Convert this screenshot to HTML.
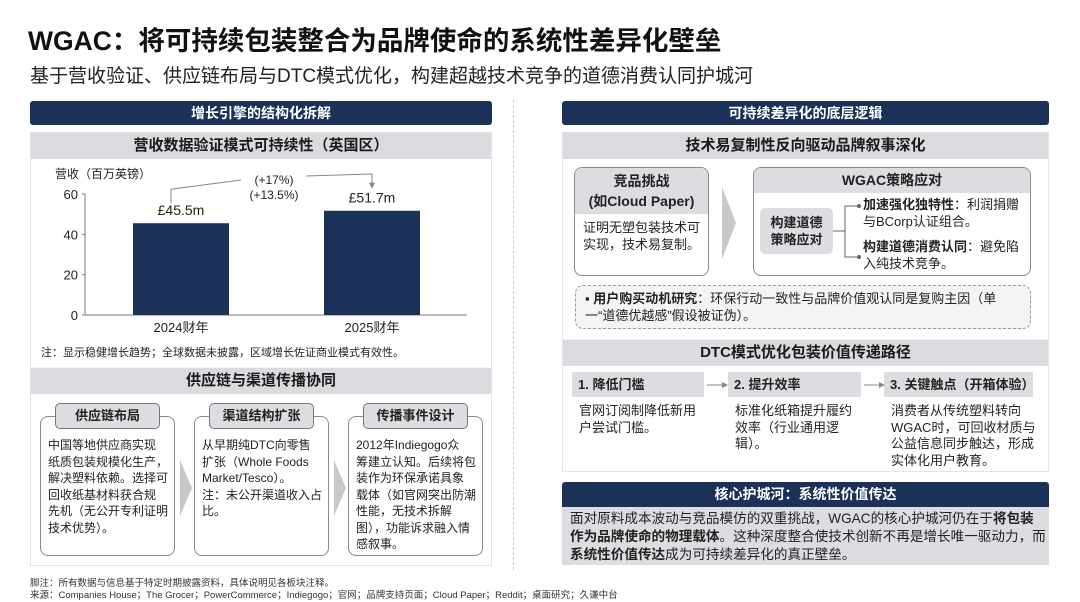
<!DOCTYPE html>
<html><head><meta charset="utf-8">
<style>
*{box-sizing:border-box;margin:0;padding:0}
body{width:1080px;height:602px;background:#fff;font-family:"Liberation Sans","Noto Sans CJK SC",sans-serif;color:#222;position:relative;overflow:hidden}
.a{position:absolute}
.navy{background:#1c3158;color:#fff;font-weight:bold;text-align:center;border-radius:3px}
.gh{background:#d9dbde;font-weight:bold;text-align:center;color:#1a1a1a}
.panel{background:#f4f4f5;border:1px solid #e4e4e6}
.box{background:#fff;border:1px solid #8a8a8a;border-radius:8px}
.tab{background:#dcdde0;border:1px solid #777;border-radius:5px;font-weight:bold;text-align:center;font-size:13px;line-height:24px}
.t{font-size:13px;line-height:16.5px}
.c{font-size:12px;line-height:16.5px;white-space:nowrap}
.chev{width:0;height:0;border-top:36px solid transparent;border-bottom:36px solid transparent;border-left:14px solid #c8c8cb}
</style></head><body>
<div class="a" style="left:28px;top:19px;font-size:26.5px;font-weight:bold;color:#111">WGAC：将可持续包装整合为品牌使命的系统性差异化壁垒</div>
<div class="a" style="left:30px;top:61px;font-size:19px;color:#222">基于营收验证、供应链布局与DTC模式优化，构建超越技术竞争的道德消费认同护城河</div>

<!-- LEFT -->
<div class="a navy" style="left:30px;top:101px;width:462px;height:24px;font-size:14px;line-height:24px">增长引擎的结构化拆解</div>
<div class="a panel" style="left:30px;top:132px;width:462px;height:434px"></div>
<div class="a gh" style="left:31px;top:133px;width:460px;height:26px;font-size:15px;line-height:26px">营收数据验证模式可持续性（英国区）</div>
<div class="a" style="left:31px;top:159px;width:460px;height:208px;background:#fff"></div>
<svg class="a" id="chart" style="left:0;top:0" width="520" height="370"></svg>
<div class="a" style="left:41px;top:344px;font-size:11px">注：显示稳健增长趋势；全球数据未披露，区域增长佐证商业模式有效性。</div>

<div class="a gh" style="left:31px;top:368px;width:460px;height:26px;font-size:15px;line-height:26px">供应链与渠道传播协同</div>
<div class="a" style="left:31px;top:394px;width:460px;height:171px;background:#fff"></div>

<div class="a box" style="left:40px;top:416px;width:135px;height:140px"></div>
<div class="a tab" style="left:55px;top:403px;width:105px;height:26px">供应链布局</div>
<div class="a c" style="left:48px;top:437px">中国等地供应商实现<br>纸质包装规模化生产，<br>解决塑料依赖。选择可<br>回收纸基材料获合规<br>先机（无公开专利证明<br>技术优势）。</div>
<div class="a chev" style="left:180px;top:460px;border-top-width:28px;border-bottom-width:28px;border-left-width:12px"></div>

<div class="a box" style="left:194px;top:416px;width:135px;height:140px"></div>
<div class="a tab" style="left:209px;top:403px;width:105px;height:26px">渠道结构扩张</div>
<div class="a c" style="left:202px;top:437px">从早期纯DTC向零售<br>扩张（Whole Foods<br>Market/Tesco）。<br>注：未公开渠道收入占<br>比。</div>
<div class="a chev" style="left:334px;top:460px;border-top-width:28px;border-bottom-width:28px;border-left-width:12px"></div>

<div class="a box" style="left:348px;top:416px;width:135px;height:140px"></div>
<div class="a tab" style="left:363px;top:403px;width:105px;height:26px">传播事件设计</div>
<div class="a c" style="left:356px;top:437px">2012年Indiegogo众<br>筹建立认知。后续将包<br>装作为环保承诺具象<br>载体（如官网突出防潮<br>性能，无技术拆解<br>图），功能诉求融入情<br>感叙事。</div>

<div class="a" style="left:513px;top:100px;height:470px;border-left:1px dashed #ccc"></div>

<div class="a" style="left:30px;top:575px;font-size:9.5px;color:#333">脚注：所有数据与信息基于特定时期披露资料，具体说明见各板块注释。</div>
<div class="a" style="left:30px;top:587px;font-size:9.5px;color:#333">来源：Companies House；The Grocer；PowerCommerce；Indiegogo；官网；品牌支持页面；Cloud Paper；Reddit；桌面研究；久谦中台</div>

<!-- RIGHT -->
<div class="a navy" style="left:562px;top:101px;width:487px;height:24px;font-size:14px;line-height:24px">可持续差异化的底层逻辑</div>
<div class="a panel" style="left:562px;top:132px;width:487px;height:340px"></div>
<div class="a gh" style="left:563px;top:133px;width:485px;height:26px;font-size:15px;line-height:26px">技术易复制性反向驱动品牌叙事深化</div>
<div class="a" style="left:563px;top:159px;width:485px;height:180px;background:#fff"></div>

<div class="a box" style="left:574px;top:167px;width:135px;height:109px;overflow:hidden">
 <div style="background:#dcdde0;height:46px;text-align:center;font-weight:bold;font-size:14px;line-height:20px;padding-top:3px">竞品挑战<br>(如Cloud Paper)</div>
 <div class="t" style="padding:6px 8px;font-size:13px">证明无塑包装技术可实现，技术易复制。</div>
</div>
<div class="a chev" style="left:722px;top:187px"></div>
<div class="a box" style="left:753px;top:167px;width:278px;height:109px;overflow:hidden">
 <div style="background:#dcdde0;height:25px;text-align:center;font-weight:bold;font-size:14px;line-height:25px">WGAC策略应对</div>
</div>
<div class="a" style="left:760px;top:208px;width:73px;height:46px;background:#dcdde0;border-radius:5px;font-weight:bold;font-size:13px;line-height:17px;text-align:center;padding-top:6px">构建道德<br>策略应对</div>
<svg class="a" style="left:833px;top:200px" width="30" height="65"><path d="M0 31H12M12 31V6H26M12 31V57H26" fill="none" stroke="#666"/><circle cx="26" cy="6" r="2" fill="#666"/><circle cx="26" cy="57" r="2" fill="#666"/></svg>
<div class="a t" style="left:863px;top:197px;width:165px"><b>加速强化独特性</b>：利润捐赠与BCorp认证组合。</div>
<div class="a t" style="left:863px;top:239px;width:165px"><b>构建道德消费认同</b>：避免陷入纯技术竞争。</div>
<div class="a" style="left:575px;top:285px;width:456px;height:44px;border:1px dashed #999;border-radius:8px;background:#f4f4f5"></div>
<div class="a t" style="left:585px;top:291px;width:440px">▪ <b>用户购买动机研究</b>：环保行动一致性与品牌价值观认同是复购主因（单一“道德优越感”假设被证伪）。</div>

<div class="a gh" style="left:563px;top:340px;width:485px;height:26px;font-size:15px;line-height:26px">DTC模式优化包装价值传递路径</div>
<div class="a" style="left:563px;top:366px;width:485px;height:105px;background:#fff"></div>
<div class="a" style="left:572px;top:372px;width:132px;height:25px;background:#dcdde0;font-weight:bold;font-size:13px;line-height:25px;padding-left:6px">1. 降低门槛</div>
<div class="a" style="left:728px;top:372px;width:133px;height:25px;background:#dcdde0;font-weight:bold;font-size:13px;line-height:25px;padding-left:6px">2. 提升效率</div>
<div class="a" style="left:884px;top:372px;width:149px;height:25px;background:#dcdde0;font-weight:bold;font-size:13px;line-height:25px;padding-left:6px">3. 关键触点（开箱体验）</div>
<svg class="a" style="left:704px;top:378px" width="184" height="14"><path d="M3 7H22M160 7H179" stroke="#888"/><path d="M18 4L24 7L18 10ZM175 4L181 7L175 10Z" fill="#888"/></svg>
<div class="a t" style="left:579px;top:403px;width:120px">官网订阅制降低新用户尝试门槛。</div>
<div class="a t" style="left:735px;top:403px;width:120px">标准化纸箱提升履约效率（行业通用逻辑）。</div>
<div class="a t" style="left:891px;top:403px;white-space:nowrap">消费者从传统塑料转向<br>WGAC时，可回收材质与<br>公益信息同步触达，形成<br>实体化用户教育。</div>

<div class="a navy" style="left:562px;top:482px;width:487px;height:25px;font-size:14px;line-height:25px;border-radius:3px 3px 0 0">核心护城河：系统性价值传达</div>
<div class="a" style="left:562px;top:507px;width:487px;height:58px;background:#dcdde0;font-size:13.6px;line-height:18px;padding:3px 8px 0 8px;white-space:nowrap">面对原料成本波动与竞品模仿的双重挑战，WGAC的核心护城河仍在于<b>将包装</b><br><b>作为品牌使命的物理载体</b>。这种深度整合使技术创新不再是增长唯一驱动力，而<br><b>系统性价值传达</b>成为可持续差异化的真正壁垒。</div>

<script>
const categories=["2024财年","2025财年"];
const revenue=[45.5,51.7];
const valueLabels=["£45.5m","£51.7m"];
const yTicks=[0,20,40,60];
const svg=document.getElementById('chart');
const NS='http://www.w3.org/2000/svg';
const x0=85,x1=467,yBase=315,yTop=194,yMax=60;
const y=v=>yBase-(v/yMax)*(yBase-yTop);
const bw=96,slot=(x1-x0)/categories.length;
const cx=i=>x0+slot*i+slot/2+0.5;
function el(t,a,txt){const e=document.createElementNS(NS,t);for(const k in a)e.setAttribute(k,a[k]);if(txt!==undefined)e.textContent=txt;svg.appendChild(e);return e;}
let e;
e=el('text',{x:55,y:178,'font-size':12,fill:'#222'},'营收（百万英镑）');


yTicks.forEach(t=>{
 e=el('text',{x:78,y:y(t)+5,'font-size':13,'text-anchor':'end',fill:'#222'},t);
 
 
 el('line',{x1:x0-3,x2:x0,y1:y(t),y2:y(t),stroke:'#777'});
});
el('line',{x1:x0,x2:x0,y1:yTop,y2:yBase,stroke:'#777'});
el('line',{x1:x0,x2:x1,y1:yBase,y2:yBase,stroke:'#777'});
categories.forEach((c,i)=>{
 e=el('rect',{x:cx(i)-bw/2,y:y(revenue[i]),width:bw,height:yBase-y(revenue[i]),fill:'#1c3158'});
 
 
 e=el('text',{x:cx(i),y:y(revenue[i])-8,'font-size':14,'text-anchor':'middle',fill:'#222'},valueLabels[i]);
 
 
 e=el('text',{x:cx(i),y:yBase+17,'font-size':13,'text-anchor':'middle',fill:'#222'},c);
 
 
});
const la=y(revenue[0])-26, lb=y(revenue[1])-26;
el('path',{d:`M${cx(0)-10} ${la+6}V${la-8}L${cx(0)+60} ${y(60)-14}M${cx(0)+125} ${y(60)-18}L${cx(1)} ${y(60)-20}V${lb+2}`,fill:'none',stroke:'#888'});
el('path',{d:`M${cx(1)-3} ${lb-2}L${cx(1)} ${lb+4}L${cx(1)+3} ${lb-2}Z`,fill:'#888'});
e=el('text',{x:cx(0)+93,y:y(60)-10,'font-size':12,'text-anchor':'middle',fill:'#222'},'(+17%)');


e=el('text',{x:cx(0)+93,y:y(60)+5,'font-size':12,'text-anchor':'middle',fill:'#222'},'(+13.5%)');


</script>
</body></html>
